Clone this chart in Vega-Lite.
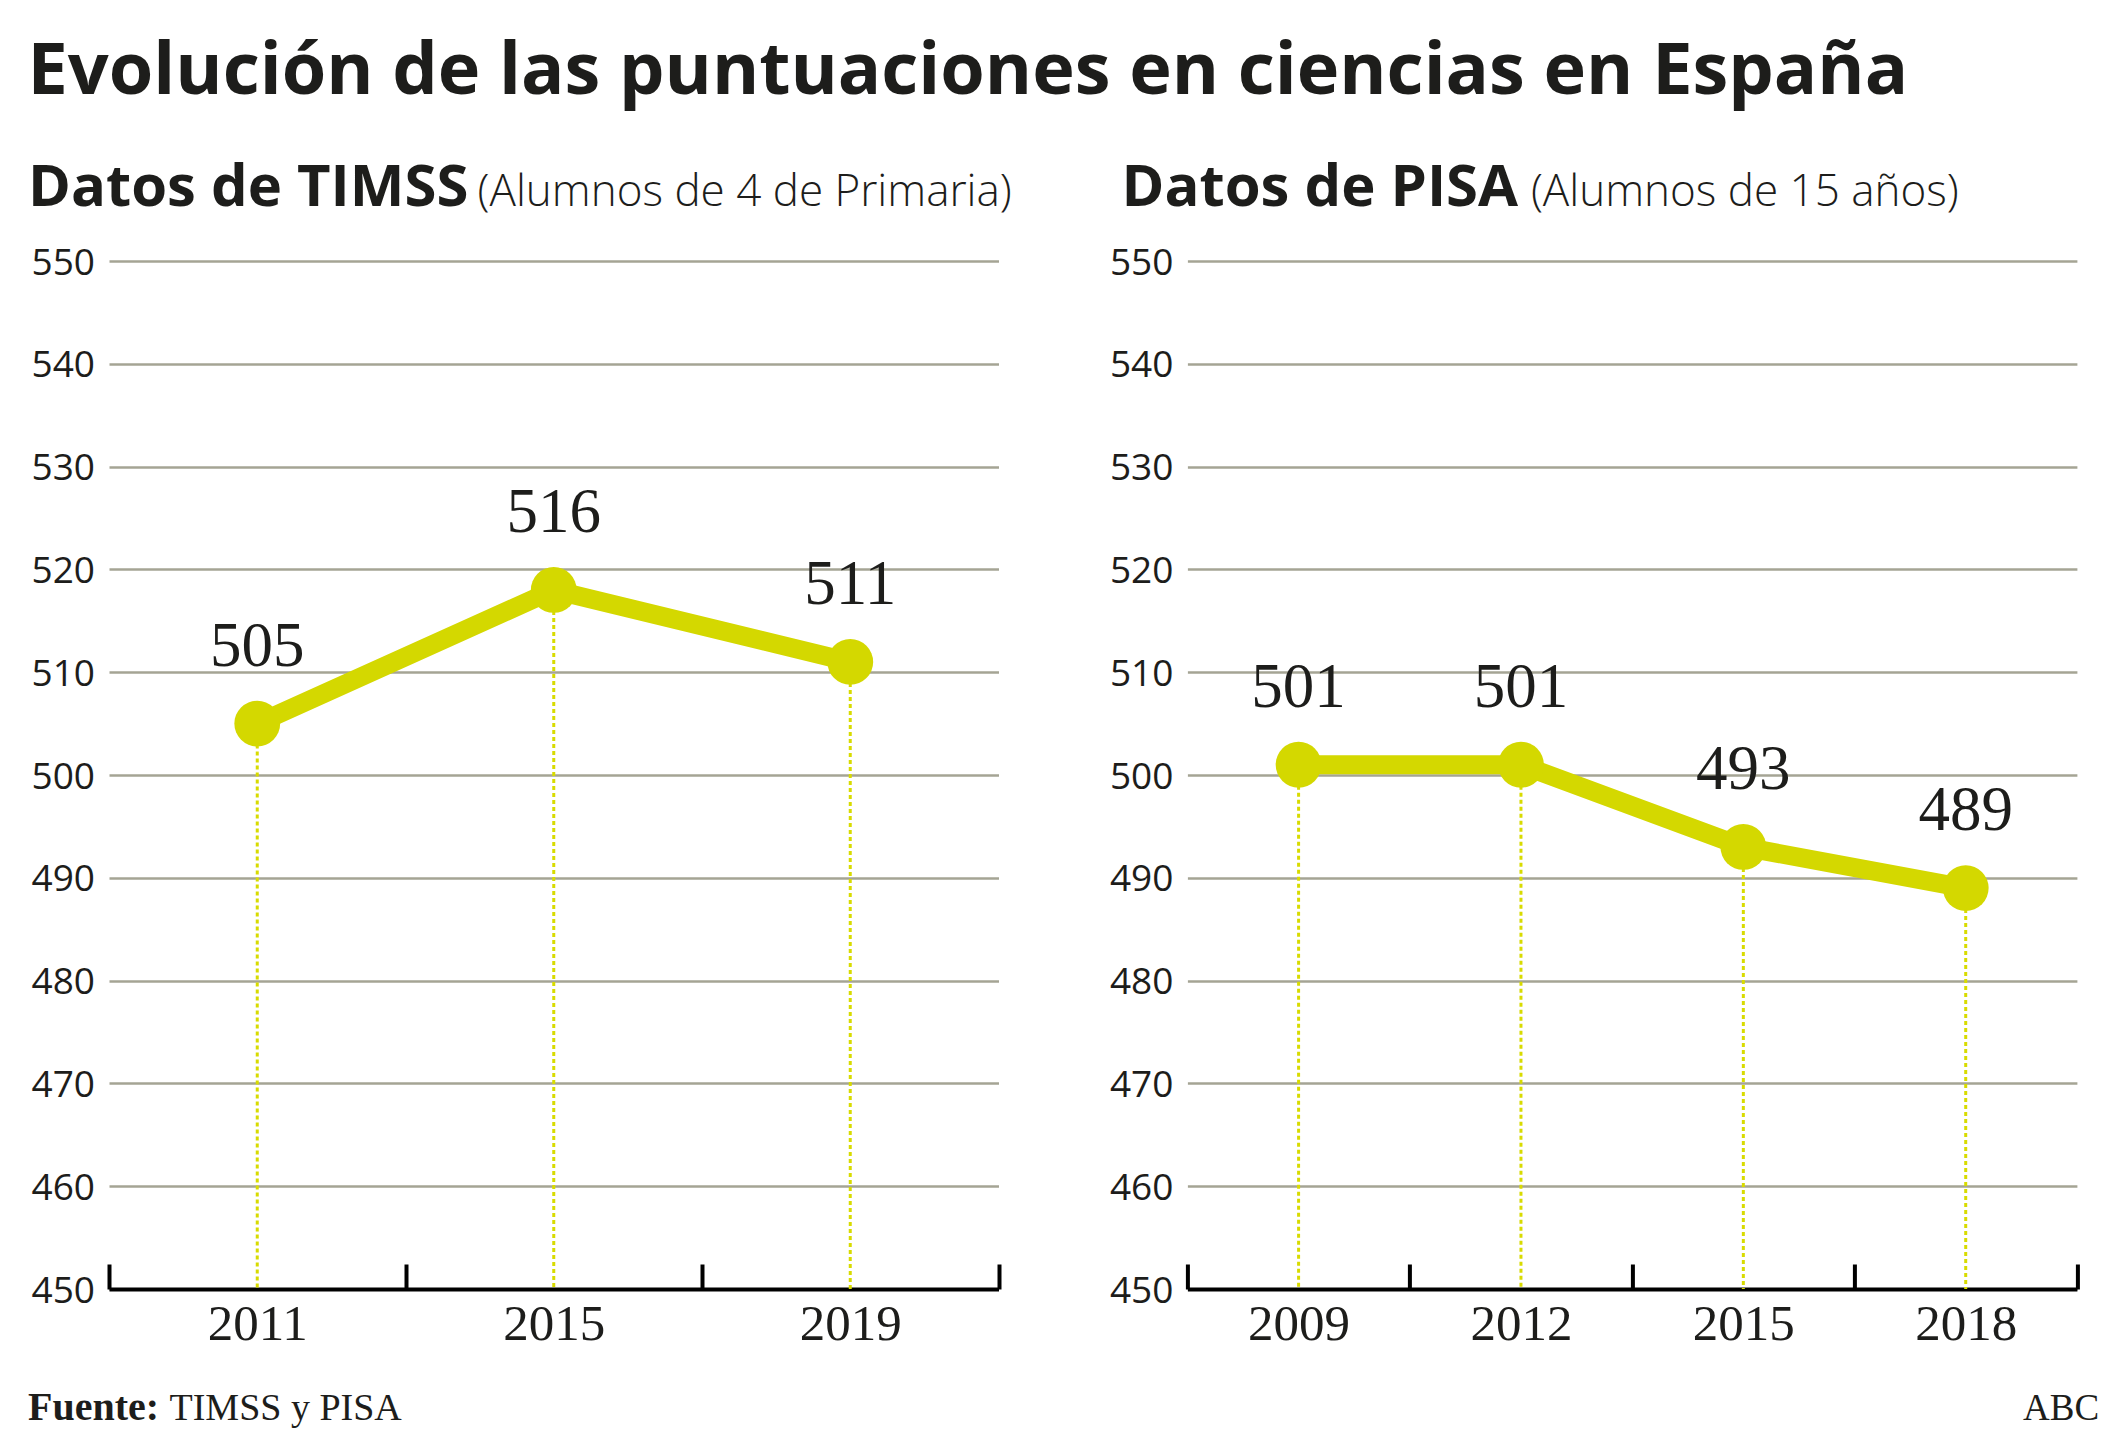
{
  "$schema": "https://vega.github.io/schema/vega-lite/v6.json",
  "background": "white",
  "padding": {"left": 27, "top": 36, "right": 20, "bottom": 20},
  "title": {
    "text": "Evolución de las puntuaciones en ciencias en España",
    "anchor": "start",
    "frame": "bounds",
    "font": "Open Sans",
    "fontSize": 72,
    "fontWeight": "bold",
    "color": "#1d1d1b",
    "offset": 50
  },
  "bounds": "flush",
  "spacing": 188.4,
  "datasets": {
    "timss": [
      {"year": 2011, "score": 505, "label": "505"},
      {"year": 2015, "score": 518, "label": "516"},
      {"year": 2019, "score": 511, "label": "511"}
    ],
    "pisa": [
      {"year": 2009, "score": 501, "label": "501"},
      {"year": 2012, "score": 501, "label": "501"},
      {"year": 2015, "score": 493, "label": "493"},
      {"year": 2018, "score": 489, "label": "489"}
    ]
  },
  "hconcat": [
    {
      "width": 889.5,
      "height": 1028,
      "data": {"name": "timss"},
      "resolve": {"axis": {"x": "independent"}},
      "layer": [
        {
          "mark": {"type": "rule", "color": "#d8db00", "strokeWidth": 3, "strokeDash": [4, 3]},
          "encoding": {
            "x": {
              "field": "year", "type": "quantitative",
              "scale": {"domain": [2009, 2021], "nice": false, "zero": false},
              "axis": {
                "orient": "bottom",
                "values": [2009, 2013, 2017, 2021],
                "labels": false, "ticks": true, "tickSize": -25, "tickWidth": 4, "tickColor": "#000000",
                "domain": true, "domainColor": "#000000", "domainWidth": 4, "grid": false, "minExtent": 0,
                "title": "Fuente:", "titleX": -81.5, "titleY": 130.5, "titleAlign": "left", "titleAnchor": "start",
                "titleBaseline": "alphabetic", "titleFont": "Liberation Serif", "titleFontSize": 40,
                "titleFontWeight": "bold", "titleColor": "#1d1d1b", "titleAngle": 0
              }
            },
            "y": {
              "field": "score", "type": "quantitative",
              "scale": {"domain": [450, 550], "nice": false, "zero": false},
              "axis": {
                "orient": "left",
                "values": [450, 460, 470, 480, 490, 500, 510, 520, 530, 540, 550],
                "title": null, "domain": false, "ticks": false, "labelAlign": "left", "labelPadding": 78,
                "labelFont": "Open Sans", "labelFontSize": 37, "labelColor": "#1d1d1b", "labelOffset": 2,
                "labelFlush": false, "labelOverlap": false, "minExtent": 0,
                "grid": true, "gridColor": "#a5a494", "gridWidth": 2.5
              }
            },
            "y2": {"datum": 450}
          }
        },
        {
          "mark": {"type": "line", "color": "#d4d800", "strokeWidth": 19},
          "encoding": {
            "x": {
              "field": "year", "type": "quantitative",
              "scale": {"domain": [2009, 2021], "nice": false, "zero": false},
              "axis": {
                "orient": "bottom",
                "values": [2011, 2015, 2019], "format": "d",
                "labels": true, "ticks": false, "domain": false, "grid": false, "minExtent": 0,
                "labelFont": "Liberation Serif", "labelFontSize": 51, "labelColor": "#1d1d1b",
                "labelPadding": 10, "labelFlush": false, "labelOverlap": false,
                "title": "TIMSS y PISA", "titleX": 60, "titleY": 130.5, "titleAlign": "left", "titleAnchor": "start",
                "titleBaseline": "alphabetic", "titleFont": "Liberation Serif", "titleFontSize": 38,
                "titleFontWeight": "normal", "titleColor": "#1d1d1b"
              }
            },
            "y": {"field": "score", "type": "quantitative"}
          }
        },
        {
          "mark": {"type": "point", "filled": true, "size": 2100, "color": "#d4d800", "opacity": 1},
          "encoding": {
            "x": {
              "field": "year", "type": "quantitative",
              "scale": {"domain": [2009, 2021], "nice": false, "zero": false},
              "axis": {
                "orient": "top", "labels": false, "ticks": false, "domain": false, "grid": false, "minExtent": 0,
                "title": "Datos de TIMSS", "titleX": -81.5, "titleY": -55.7, "titleAlign": "left", "titleAnchor": "start",
                "titleBaseline": "alphabetic", "titleFont": "Open Sans", "titleFontSize": 58,
                "titleFontWeight": "bold", "titleColor": "#1d1d1b"
              }
            },
            "y": {"field": "score", "type": "quantitative"}
          }
        },
        {
          "mark": {"type": "text", "font": "Liberation Serif", "fontSize": 63, "dy": -58, "baseline": "alphabetic", "align": "center", "color": "#1d1d1b"},
          "encoding": {
            "x": {
              "field": "year", "type": "quantitative",
              "scale": {"domain": [2009, 2021], "nice": false, "zero": false},
              "axis": {
                "orient": "top", "labels": false, "ticks": false, "domain": false, "grid": false, "minExtent": 0,
                "title": "(Alumnos de 4 de Primaria)", "titleX": 368, "titleY": -55.7, "titleAlign": "left", "titleAnchor": "start",
                "titleBaseline": "alphabetic", "titleFont": "Open Sans", "titleFontSize": 44,
                "titleFontWeight": 300, "titleColor": "#1d1d1b"
              }
            },
            "y": {"field": "score", "type": "quantitative"},
            "text": {"field": "label"}
          }
        }
      ]
    },
    {
      "width": 889.5,
      "height": 1028,
      "data": {"name": "pisa"},
      "resolve": {"axis": {"x": "independent"}},
      "layer": [
        {
          "mark": {"type": "rule", "color": "#d8db00", "strokeWidth": 3, "strokeDash": [4, 3]},
          "encoding": {
            "x": {
              "field": "year", "type": "quantitative",
              "scale": {"domain": [2007.5, 2019.5], "nice": false, "zero": false},
              "axis": {
                "orient": "bottom",
                "values": [2007.5, 2010.5, 2013.5, 2016.5, 2019.5],
                "labels": false, "ticks": true, "tickSize": -25, "tickWidth": 4, "tickColor": "#000000",
                "domain": true, "domainColor": "#000000", "domainWidth": 4, "grid": false, "minExtent": 0,
                "title": "ABC", "titleX": 911.2, "titleY": 130.5, "titleAlign": "right", "titleAnchor": "end",
                "titleBaseline": "alphabetic", "titleFont": "Liberation Serif", "titleFontSize": 37,
                "titleFontWeight": "normal", "titleColor": "#1d1d1b"
              }
            },
            "y": {
              "field": "score", "type": "quantitative",
              "scale": {"domain": [450, 550], "nice": false, "zero": false},
              "axis": {
                "orient": "left",
                "values": [450, 460, 470, 480, 490, 500, 510, 520, 530, 540, 550],
                "title": null, "domain": false, "ticks": false, "labelAlign": "left", "labelPadding": 78,
                "labelFont": "Open Sans", "labelFontSize": 37, "labelColor": "#1d1d1b", "labelOffset": 2,
                "labelFlush": false, "labelOverlap": false, "minExtent": 0,
                "grid": true, "gridColor": "#a5a494", "gridWidth": 2.5
              }
            },
            "y2": {"datum": 450}
          }
        },
        {
          "mark": {"type": "line", "color": "#d4d800", "strokeWidth": 19},
          "encoding": {
            "x": {
              "field": "year", "type": "quantitative",
              "scale": {"domain": [2007.5, 2019.5], "nice": false, "zero": false},
              "axis": {
                "orient": "bottom",
                "values": [2009, 2012, 2015, 2018], "format": "d",
                "labels": true, "ticks": false, "domain": false, "grid": false, "minExtent": 0,
                "labelFont": "Liberation Serif", "labelFontSize": 51, "labelColor": "#1d1d1b",
                "labelPadding": 10, "labelFlush": false, "labelOverlap": false,
                "title": null
              }
            },
            "y": {"field": "score", "type": "quantitative"}
          }
        },
        {
          "mark": {"type": "point", "filled": true, "size": 2100, "color": "#d4d800", "opacity": 1},
          "encoding": {
            "x": {
              "field": "year", "type": "quantitative",
              "scale": {"domain": [2007.5, 2019.5], "nice": false, "zero": false},
              "axis": {
                "orient": "top", "labels": false, "ticks": false, "domain": false, "grid": false, "minExtent": 0,
                "title": "Datos de PISA", "titleX": -66.4, "titleY": -55.7, "titleAlign": "left", "titleAnchor": "start",
                "titleBaseline": "alphabetic", "titleFont": "Open Sans", "titleFontSize": 58,
                "titleFontWeight": "bold", "titleColor": "#1d1d1b"
              }
            },
            "y": {"field": "score", "type": "quantitative"}
          }
        },
        {
          "mark": {"type": "text", "font": "Liberation Serif", "fontSize": 63, "dy": -58, "baseline": "alphabetic", "align": "center", "color": "#1d1d1b"},
          "encoding": {
            "x": {
              "field": "year", "type": "quantitative",
              "scale": {"domain": [2007.5, 2019.5], "nice": false, "zero": false},
              "axis": {
                "orient": "top", "labels": false, "ticks": false, "domain": false, "grid": false, "minExtent": 0,
                "title": "(Alumnos de 15 años)", "titleX": 343, "titleY": -55.7, "titleAlign": "left", "titleAnchor": "start",
                "titleBaseline": "alphabetic", "titleFont": "Open Sans", "titleFontSize": 44,
                "titleFontWeight": 300, "titleColor": "#1d1d1b"
              }
            },
            "y": {"field": "score", "type": "quantitative"},
            "text": {"field": "label"}
          }
        }
      ]
    }
  ],
  "config": {
    "view": {"stroke": null},
    "font": "Open Sans"
  }
}
